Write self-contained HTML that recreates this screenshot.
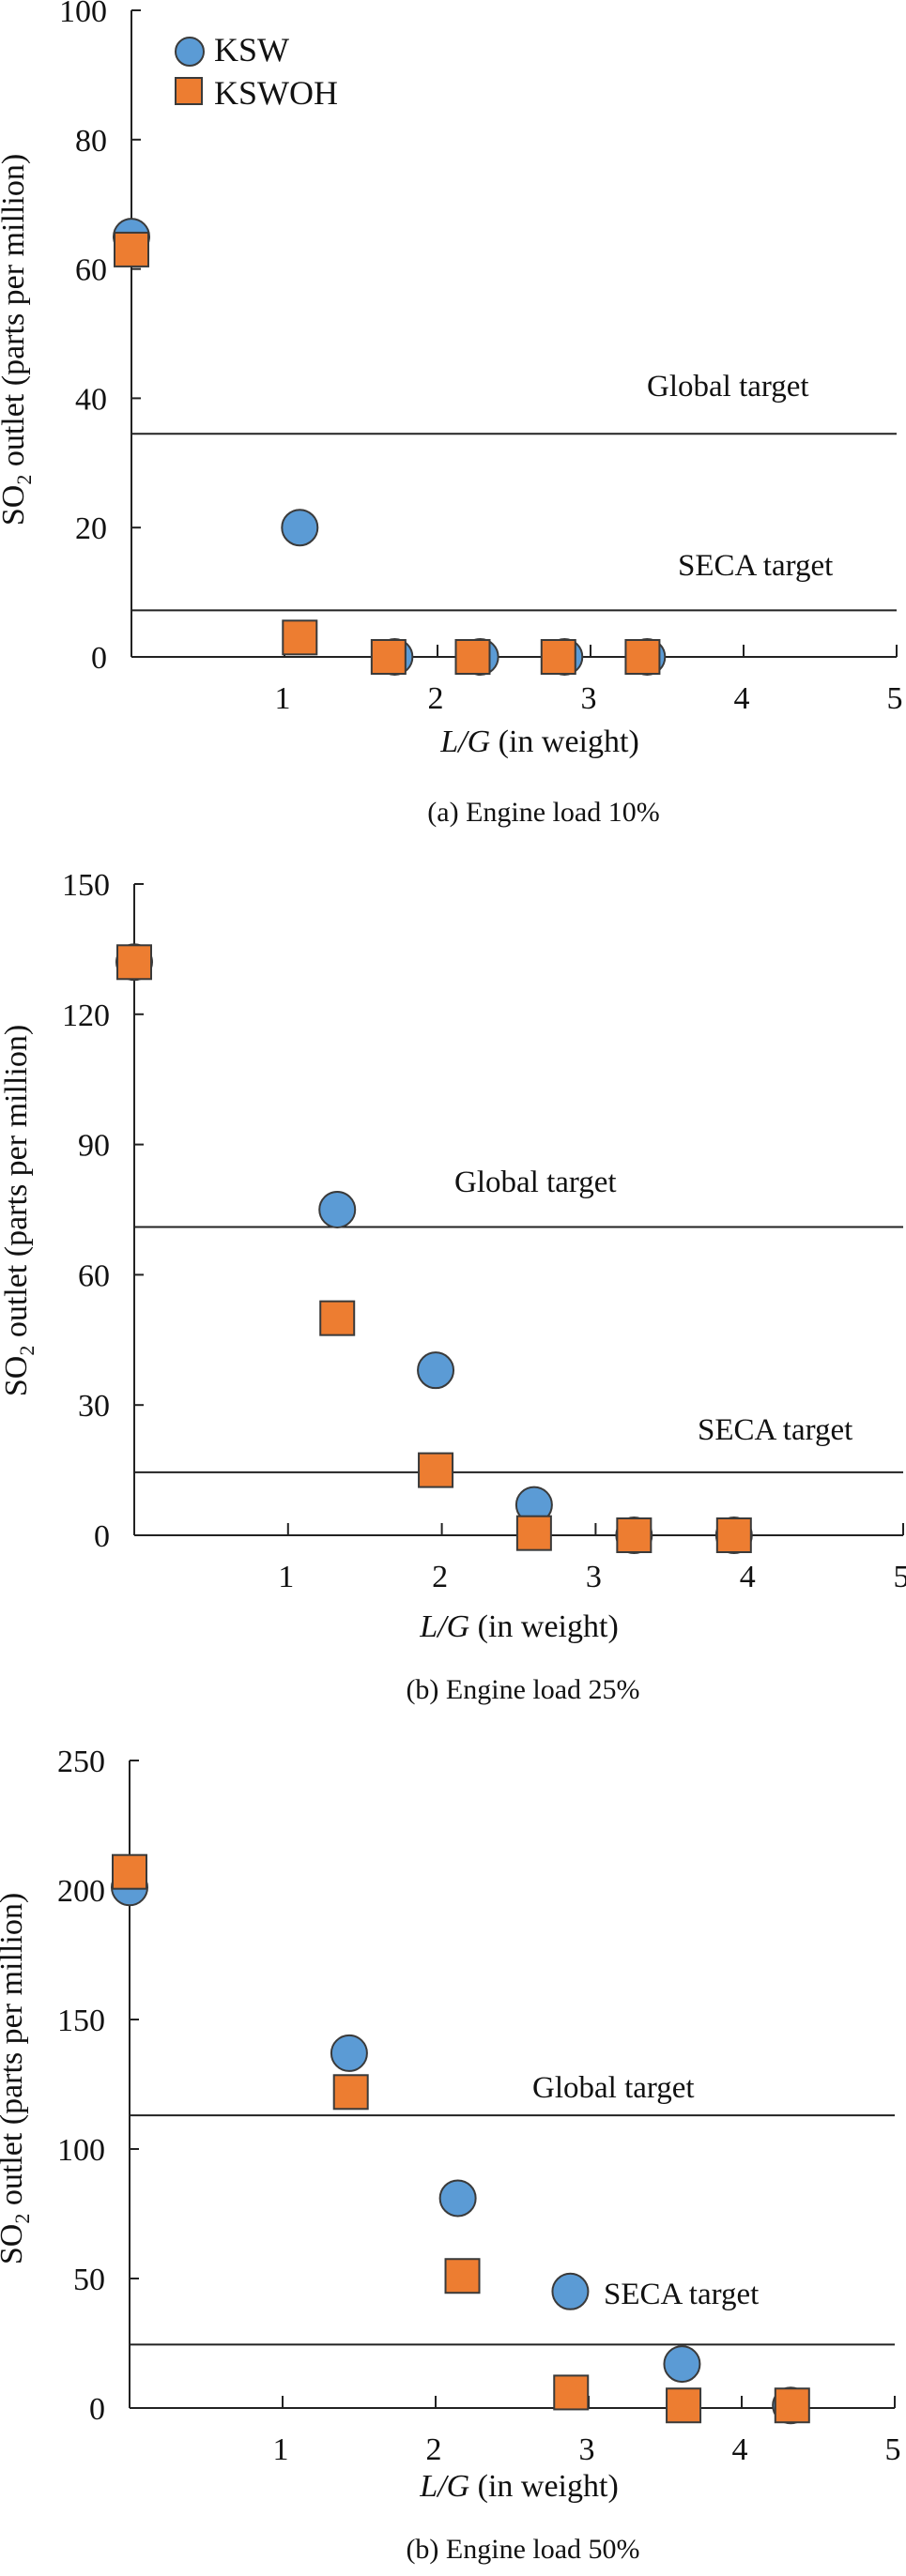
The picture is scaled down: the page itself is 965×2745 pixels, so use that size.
<!DOCTYPE html>
<html><head><meta charset="utf-8"><style>
html,body{margin:0;padding:0;background:#fff;}
svg, svg text{font-family:"Liberation Serif","DejaVu Serif",serif;}
</style></head><body>
<svg id="fig" width="965" height="2740" viewBox="0 0 965 2740" font-family="Liberation Serif, serif" xmlns="http://www.w3.org/2000/svg"></svg>
<script>
// Panel (a) Engine load 10%
const aX_ksw = [0, 1.1, 1.72, 2.28, 2.83, 3.37];
const aY_ksw = [65, 20, 0, 0, 0, 0];
const aX_koh = [0, 1.1, 1.68, 2.23, 2.79, 3.34];
const aY_koh = [63, 3, 0, 0, 0, 0];
const aYTicks = [0, 20, 40, 60, 80, 100];
const aTargets = [34.5, 7.2];
// Panel (b) Engine load 25%
const bX_ksw = [0, 1.32, 1.96, 2.6, 3.25, 3.9];
const bY_ksw = [132, 75, 38, 7, 0, 0];
const bX_koh = [0, 1.32, 1.96, 2.6, 3.25, 3.9];
const bY_koh = [132, 50, 15, 0.5, 0, 0];
const bYTicks = [0, 30, 60, 90, 120, 150];
const bTargets = [71, 14.5];
// Panel (c) Engine load 50%
const cX_ksw = [0, 1.435, 2.145, 2.88, 3.61, 4.32];
const cY_ksw = [201, 137, 81, 45, 17, 1];
const cX_koh = [0, 1.446, 2.175, 2.885, 3.62, 4.33];
const cY_koh = [207, 122, 51, 6, 1, 1];
const cYTicks = [0, 50, 100, 150, 200, 250];
const cTargets = [113, 24.5];
const xTicks = [1, 2, 3, 4, 5];

const NS = "http://www.w3.org/2000/svg";
const svg = document.getElementById('fig');
const FONT = '"Liberation Serif", "DejaVu Serif", serif';
function mk(tag, attrs, parent, text){
  const e = document.createElementNS(NS, tag);
  for (const k in attrs) e.setAttribute(k, attrs[k]);
  if (tag === 'text') e.setAttribute('font-family', FONT);
  if (text !== undefined) e.textContent = text;
  (parent || svg).appendChild(e);
  return e;
}
const BLUE = "#5b9bd5", ORANGE = "#ed7d31", EDGE = "#3a3a3a";

function panel(cfg){
  const g = mk('g', {});
  
  
  const x0 = cfg.x0, x1 = cfg.x1, yTop = cfg.yTop, yBot = cfg.yBot;
  const ymax = cfg.yTicks[cfg.yTicks.length - 1];
  const sx = v => x0 + (x1 - x0) * v / 5;
  const sy = v => yBot - (yBot - yTop) * v / ymax;
  const ya = mk('line', {x1:x0, y1:yTop, x2:x0, y2:yBot, stroke:'#222', 'stroke-width':2}, g);
  
  
  const xa = mk('line', {x1:x0, y1:yBot, x2:x1, y2:yBot, stroke:'#222', 'stroke-width':2}, g);
  
  
  cfg.yTicks.forEach(t => {
    const y = sy(t);
    const tk = mk('line', {x1:x0, y1:y, x2:x0 + 10, y2:y, stroke:'#222', 'stroke-width':2}, g);
    
    
    const lb = mk('text', {x:x0 - 26, y:y + 12, 'text-anchor':'end', 'font-size':34, fill:'#111'}, g, String(t));
    
    
  });
  xTicks.forEach(t => {
    const x = sx(t);
    const tk = mk('line', {x1:x, y1:yBot, x2:x, y2:yBot - 13, stroke:'#222', 'stroke-width':2}, g);
    
    
    const lb = mk('text', {x:x - 2, y:yBot + 55, 'text-anchor':'middle', 'font-size':34, fill:'#111'}, g, String(t));
    
    
  });
  const gl = mk('line', {x1:x0, y1:sy(cfg.targets[0]), x2:x1, y2:sy(cfg.targets[0]), stroke:'#222', 'stroke-width':2}, g);
  
  
  const sl = mk('line', {x1:x0, y1:sy(cfg.targets[1]), x2:x1, y2:sy(cfg.targets[1]), stroke:'#222', 'stroke-width':2}, g);
  
  
  const gt = mk('text', {x:cfg.gx, y:cfg.gy, 'font-size':33, fill:'#111'}, g, 'Global target');
  
  
  const st = mk('text', {x:cfg.sxl, y:cfg.syl, 'font-size':33, fill:'#111'}, g, 'SECA target');
  
  
  cfg.kx.forEach((v, i) => {
    const c = mk('circle', {cx:sx(v), cy:sy(cfg.ky[i]), r:19, fill:BLUE, stroke:EDGE, 'stroke-width':2}, g);
    
    
  });
  cfg.ox.forEach((v, i) => {
    const s = 36;
    const r = mk('rect', {x:sx(v) - s/2, y:sy(cfg.oy[i]) - s/2, width:s, height:s, fill:ORANGE, stroke:EDGE, 'stroke-width':2}, g);
    
    
  });
  const yt = mk('text', {transform:'translate(' + (cfg.x0 - 115) + ',' + cfg.ytc + ') rotate(-90)', 'text-anchor':'middle', 'font-size':34, fill:'#111'}, g);
  
  
  mk('tspan', {}, yt, 'SO');
  mk('tspan', {'font-size':22, dy:8}, yt, '2');
  mk('tspan', {dy:-8}, yt, ' outlet (parts per million)');
  const xt = mk('text', {x:cfg.xtx, y:cfg.xty, 'text-anchor':'middle', 'font-size':34, fill:'#111'}, g);
  
  
  mk('tspan', {'font-style':'italic'}, xt, 'L/G');
  mk('tspan', {}, xt, ' (in weight)');
  const cp = mk('text', {x:cfg.xtx + 4, y:cfg.cy, 'text-anchor':'middle', 'font-size':30, fill:'#111'}, g, cfg.caption);
  
  
}

panel({name:'panel-load-10', x0:140, x1:955, yTop:11, yBot:700, yTicks:aYTicks, targets:aTargets,
  kx:aX_ksw, ky:aY_ksw, ox:aX_koh, oy:aY_koh, gx:689, gy:422, sxl:722, syl:613,
  ytc:362, xtx:575, xty:801, cy:875, caption:'(a) Engine load 10%'});
panel({name:'panel-load-25', x0:143, x1:962, yTop:942, yBot:1636, yTicks:bYTicks, targets:bTargets,
  kx:bX_ksw, ky:bY_ksw, ox:bX_koh, oy:bY_koh, gx:484, gy:1270, sxl:743, syl:1534,
  ytc:1290, xtx:553, xty:1744, cy:1810, caption:'(b) Engine load 25%'});
panel({name:'panel-load-50', x0:138, x1:953, yTop:1876, yBot:2566, yTicks:cYTicks, targets:cTargets,
  kx:cX_ksw, ky:cY_ksw, ox:cX_koh, oy:cY_koh, gx:567, gy:2235, sxl:643, syl:2455,
  ytc:2215, xtx:553, xty:2660, cy:2726, caption:'(b) Engine load 50%'});

const lg = mk('g', {});


const lc = mk('circle', {cx:202, cy:55, r:15, fill:BLUE, stroke:EDGE, 'stroke-width':2}, lg);


const lt1 = mk('text', {x:228, y:65, 'font-size':36, fill:'#111'}, lg, 'KSW');


const ls = mk('rect', {x:187, y:83, width:28, height:28, fill:ORANGE, stroke:EDGE, 'stroke-width':2}, lg);


const lt2 = mk('text', {x:228, y:111, 'font-size':36, fill:'#111'}, lg, 'KSWOH');


</script>
</body></html>
